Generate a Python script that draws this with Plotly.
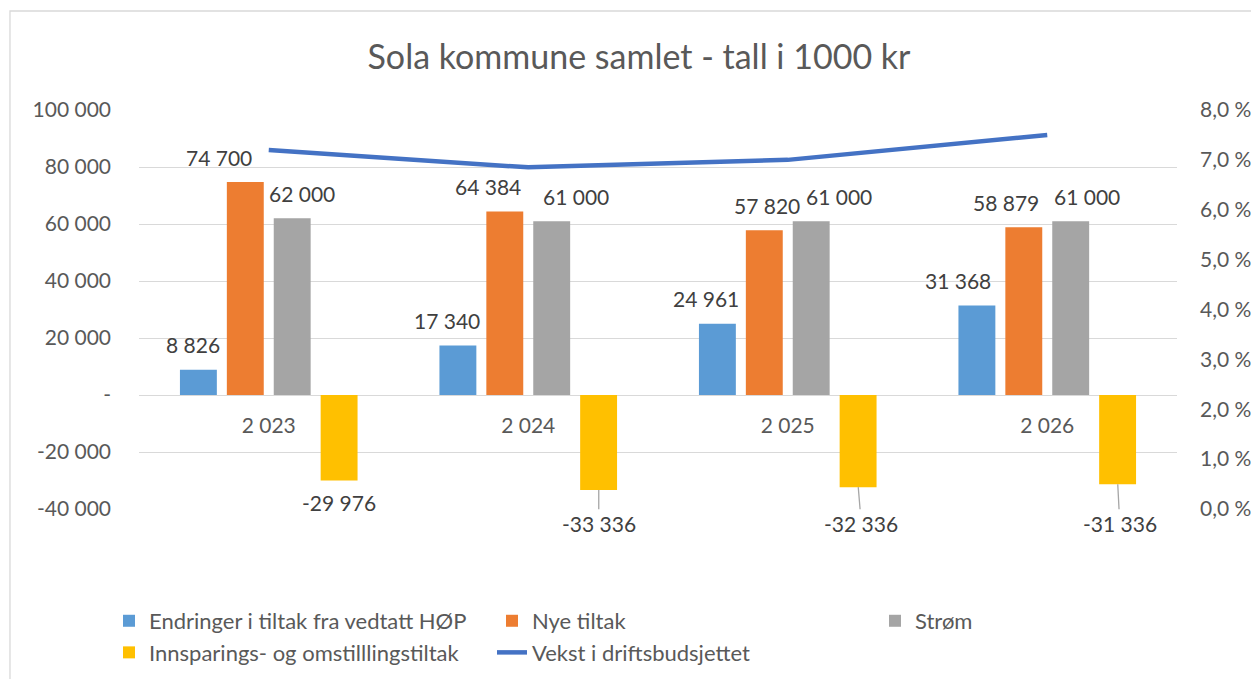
import plotly.graph_objects as go

# ---- data ----
years = ["2 023", "2 024", "2 025", "2 026"]
endringer = [8826, 17340, 24961, 31368]
nye_tiltak = [74700, 64384, 57820, 58879]
strom = [62000, 61000, 61000, 61000]
innsparing = [-29976, -33336, -32336, -31336]
vekst = [0.072, 0.0685, 0.070, 0.075]

left_ticks = [-40000, -20000, 0, 20000, 40000, 60000, 80000, 100000]
left_ticktext = ["-40 000", "-20 000", "-", "20 000", "40 000", "60 000", "80 000", "100 000"]
right_ticks = [0, 0.01, 0.02, 0.03, 0.04, 0.05, 0.06, 0.07, 0.08]
right_ticktext = ["0,0 %", "1,0 %", "2,0 %", "3,0 %", "4,0 %", "5,0 %", "6,0 %", "7,0 %", "8,0 %"]

names = ["Endringer i tiltak fra vedtatt HØP", "Nye tiltak", "Strøm",
         "Innsparings- og omstilllingstiltak"]
colors = ["#5B9BD5", "#ED7D31", "#A5A5A5", "#FFC000"]
line_color = "#4472C4"

FONT = "Lato, 'Open Sans', sans-serif"
TXT = "#595959"
LBL = "#404040"

# style: per-label horizontal nudges (px) relative to bar centre
label_dx = [
    [-5, -11, -11, -19],
    [-26, -17, 3, -18],
    [10, 24, 28, 16],
    [0, 0, 3, 2],
]
slot_px = 47  # horizontal distance between bar centres within a group


def fmt(v):
    return f"{v:,}".replace(",", " ")


fig = go.Figure()
series = [endringer, nye_tiltak, strom, innsparing]
for name, vals, col in zip(names, series, colors):
    fig.add_trace(go.Bar(x=years, y=vals, name=name, marker_color=col,
                         marker_line_width=0, yaxis="y"))

fig.add_trace(go.Scatter(x=years, y=vekst, name="Vekst i driftsbudsjettet",
                         mode="lines", line=dict(color=line_color, width=4.5),
                         yaxis="y2"))

annotations = []
for si, vals in enumerate(series):
    off = (si - 1.5) * slot_px
    for ci, v in enumerate(vals):
        dx = off + label_dx[si][ci]
        if v >= 0:
            annotations.append(dict(x=years[ci], y=v, xref="x", yref="y", text=fmt(v),
                                    showarrow=False, xshift=dx, yshift=25,
                                    font=dict(family=FONT, size=21, color=LBL)))
        elif ci == 0:
            annotations.append(dict(x=years[ci], y=v, xref="x", yref="y", text=fmt(v),
                                    showarrow=False, xshift=dx, yshift=-22,
                                    font=dict(family=FONT, size=21, color=LBL)))
        else:
            annotations.append(dict(x=years[ci], y=v, xref="x", yref="y", text=fmt(v),
                                    showarrow=True, arrowhead=0, arrowwidth=1.3,
                                    arrowcolor="#A6A6A6", xshift=off, ax=label_dx[si][ci],
                                    ayref="y", ay=-45000, standoff=0,
                                    font=dict(family=FONT, size=21, color=LBL)))

fig.update_layout(
    width=1251, height=671,
    margin=dict(l=131, r=82, t=102, b=170, autoexpand=False),
    paper_bgcolor="white", plot_bgcolor="white",
    font=dict(family=FONT, size=21, color=TXT),
    title=dict(text="Sola kommune samlet - tall i 1000 kr", x=0.5044, xref="container",
               xanchor="center", y=0.927, yanchor="middle", yref="container",
               font=dict(family=FONT, size=34, color=TXT)),
    barmode="group", bargap=0.277, bargroupgap=0.213,
    showlegend=True,
    legend=dict(orientation="h", x=-0.0289, xanchor="left", y=-0.228, yanchor="top",
                entrywidth=338, font=dict(family=FONT, size=22, color=TXT),
                traceorder="normal", bgcolor="rgba(0,0,0,0)"),
    xaxis=dict(type="category", anchor="free", position=40000 / 140000,
               showgrid=False, showline=False, ticks="", ticklabelstandoff=16,
               tickfont=dict(family=FONT, size=21, color=TXT), zeroline=False),
    yaxis=dict(range=[-40000, 100000], tickvals=left_ticks, ticktext=left_ticktext,
               showgrid=True, gridcolor="#D9D9D9", gridwidth=1.3,
               zeroline=True, zerolinecolor="#D9D9D9", zerolinewidth=1.3,
               showline=False, ticks="", ticklabelstandoff=27,
               tickfont=dict(family=FONT, size=21, color=TXT)),
    yaxis2=dict(range=[0, 0.08], tickvals=right_ticks, ticktext=right_ticktext,
                overlaying="y", side="right", showgrid=False, zeroline=False,
                showline=False, ticks="", ticklabelstandoff=22,
                tickfont=dict(family=FONT, size=21, color=TXT)),
    annotations=annotations,
    shapes=[dict(type="rect", xref="paper", yref="paper",
                 x0=-0.1243, x1=1.0877, y0=-0.4486, y1=1.2481,
                 line=dict(color="#D9D9D9", width=1.3), fillcolor="rgba(0,0,0,0)",
                 layer="below")],
)

fig.write_html("out.html")
